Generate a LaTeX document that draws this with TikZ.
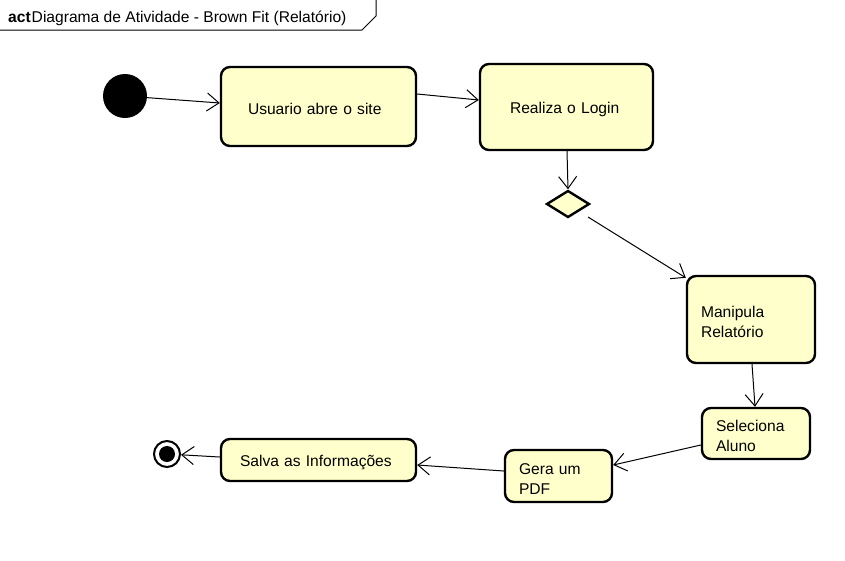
\documentclass[tikz,border=0pt]{standalone}
\usepackage{fontspec}
\setmainfont{Liberation Sans}
\usetikzlibrary{arrows.meta,shapes.geometric}
\definecolor{actfill}{HTML}{FFFFCC}
\newcommand{\dn}{\rule{0pt}{17pt}}
\tikzset{
  actbox/.style={draw=black, line width=2.4pt, fill=actfill, rounded corners=9pt,
    inner sep=0pt, font=\fontsize{15.6}{20}\selectfont},
  arr/.style={draw=black, line width=1pt, -{Straight Barb[length=12pt,width=18pt,line width=1pt]}},
}
\begin{document}
\begin{tikzpicture}[x=1pt,y=-1pt]
\useasboundingbox (0,0) rectangle (845,560);
% frame header
\draw[line width=1pt] (0,30) -- (362,30) -- (376,16) -- (376,0);
\node[anchor=base west, inner sep=0pt, font=\fontsize{15.6}{18}\selectfont] (title) at (8,22)
  {\textbf{act}\hspace{1pt}Diagrama de Atividade - Brown Fit (Relatório)};
% nodes
\node[circle, fill=black, minimum size=44pt, inner sep=0pt] (init) at (125,96) {};
\node[actbox, minimum width=195pt, minimum height=79pt, text width=141pt, inner xsep=27pt, align=left] (b1) at (318.5,106.5) {\dn Usuario abre o site};
\node[actbox, minimum width=173pt, minimum height=86pt, text width=113pt, inner xsep=30pt, align=left] (b2) at (566.5,107) {\dn Realiza o Login};
\node[diamond, draw=black, line width=2.4pt, fill=actfill, minimum width=43pt, minimum height=27pt, inner sep=0pt] (dia) at (568,204) {};
\node[actbox, minimum width=128pt, minimum height=87pt, text width=100pt, inner xsep=14pt, align=left] (b3) at (751,319.5) {\dn Manipula\\Relatório};
\node[actbox, minimum width=108pt, minimum height=51pt, text width=80pt, inner xsep=14pt, align=left] (b4) at (756,433.5) {\dn Seleciona\\Aluno};
\node[actbox, minimum width=107pt, minimum height=52pt, text width=79pt, inner xsep=14pt, align=left] (b5) at (558.5,476) {\dn Gera um\\PDF};
\node[actbox, minimum width=195pt, minimum height=42pt, text width=157pt, inner xsep=19pt, align=left] (b6) at (318.5,460) {\dn Salva as Informações};
\node[circle, draw=black, line width=2pt, fill=white, minimum size=26pt, inner sep=0pt,
  path picture={\fill[black] (path picture bounding box.center) circle (8pt);}] (fin) at (167,454) {};
% connectors
\draw[arr] (init) -- ([yshift=3.5pt]b1.west);
\draw[arr] ([yshift=12.5pt]b1.east) -- ([yshift=7pt]b2.west);
\draw[arr] ([xshift=0.5pt]b2.south) -- (dia.north);
\draw[arr] ([shift={(20,13)}]dia.center) -- ([shift={(0,3)}]b3.north west);
\draw[arr] ([xshift=1pt]b3.south) -- ([xshift=-1pt]b4.north);
\draw[arr] ([yshift=-11.5pt]b4.west) -- ([yshift=11pt]b5.east);
\draw[arr] ([yshift=5pt]b5.west) -- ([yshift=-5pt]b6.east);
\draw[arr] ([yshift=3pt]b6.west) -- (fin);
\end{tikzpicture}
\end{document}
